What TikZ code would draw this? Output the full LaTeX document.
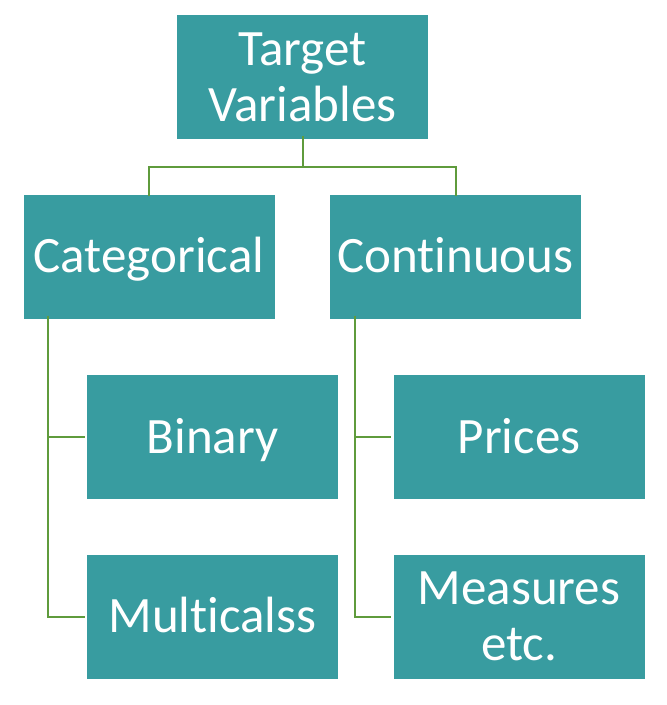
\documentclass[tikz,border=0pt]{standalone}
\usepackage{fontspec}
\setmainfont{Carlito}[Ligatures=NoCommon]
\definecolor{teal1}{HTML}{389CA0}
\definecolor{green1}{HTML}{5F9B3C}
\begin{document}
\begin{tikzpicture}[x=1pt,y=-1pt,
  box/.style={fill=teal1, text=white, inner sep=0pt, minimum width=251pt, minimum height=124pt,
    font=\fontsize{51}{56}\selectfont, align=center, text height=32pt, text depth=0pt},
  box2/.style={box, text height=88pt},
  conn/.style={draw=green1, line width=2pt}]
\useasboundingbox (0,0) rectangle (667,705);
\node[box2] (tv) at (302.5,77) {Target\\Variables};
\node[box] (cat) at (149,256.5) {Categorical};
\node[box] (con) at (455.5,256.5) {Continuous};
\node[box] (bin) at (212.5,437) {Binary};
\node[box] (mul) at (212.5,616.5) {Multicalss};
\node[box] (pri) at (519,437) {Prices};
\node[box2] (mea) at (519,616.5) {Measures\\etc.};
\coordinate (j) at (302.5,167);
\draw[conn] ([yshift=3pt]tv.south) -- (j);
\draw[conn] ([yshift=-2pt]cat.north) |- (j) -| ([yshift=-2pt]con.north);
\draw[conn] ([xshift=-101pt,yshift=3pt]cat.south) |- ([xshift=-2pt]mul.west);
\draw[conn] ([xshift=-101pt,yshift=3pt]cat.south) |- ([xshift=-2pt]bin.west);
\draw[conn] ([xshift=-101pt,yshift=3pt]con.south) |- ([xshift=-2pt]mea.west);
\draw[conn] ([xshift=-101pt,yshift=3pt]con.south) |- ([xshift=-2pt]pri.west);
\end{tikzpicture}
\end{document}
